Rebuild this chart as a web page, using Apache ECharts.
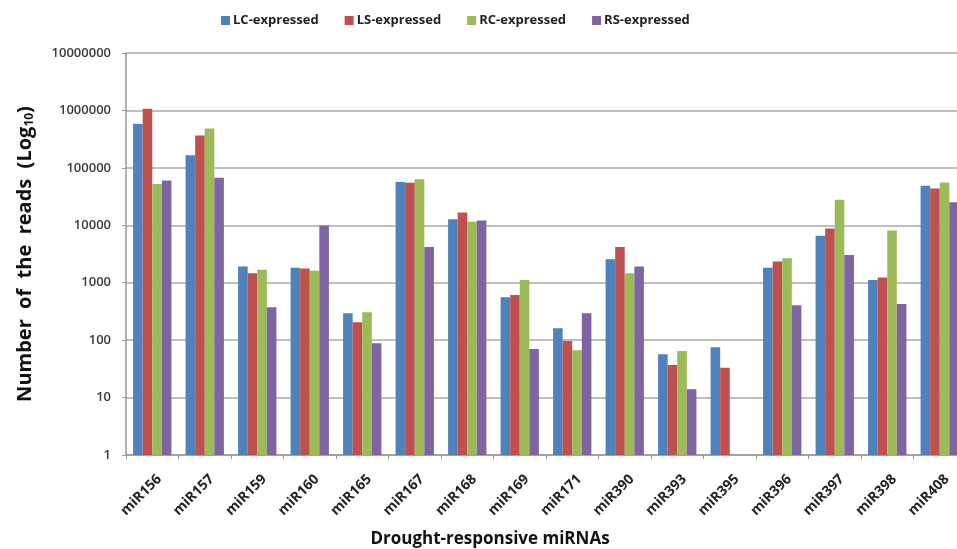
<!DOCTYPE html>
<html>
<head>
<meta charset="utf-8">
<script src="https://cdn.jsdelivr.net/npm/echarts@6/dist/echarts.min.js"></script>
<style>
  html, body { margin: 0; padding: 0; background: #fff; }
  #chart { width: 957px; height: 549px; }
</style>
</head>
<body>
<div id="chart"></div>
<script>
var categories = ['miR156', 'miR157', 'miR159', 'miR160', 'miR165', 'miR167', 'miR168', 'miR169',
    'miR171', 'miR390', 'miR393', 'miR395', 'miR396', 'miR397', 'miR398', 'miR408'];

var lcExpressed = [585000, 166000, 1910, 1830, 294, 57000, 12800, 560, 161, 2570, 57, 75, 1830, 6600, 1120, 48600];
var lsExpressed = [1070000, 366000, 1460, 1760, 205, 54800, 16700, 613, 97, 4200, 37, 33, 2330, 8800, 1230, 43600];
var rcExpressed = [52600, 484000, 1690, 1610, 306, 63500, 11500, 1120, 67, 1460, 65, null, 2670, 27700, 8100, 55500];
var rsExpressed = [60000, 67000, 374, 9900, 88, 4200, 12100, 70, 294, 1910, 14, null, 405, 3050, 427, 25300];

var yTicks = [1, 10, 100, 1000, 10000, 100000, 1000000, 10000000];

var seriesNames = ['LC-expressed', 'LS-expressed', 'RC-expressed', 'RS-expressed'];
var seriesColors = ['#4F81BD', '#C0504D', '#9BBB59', '#8064A2'];
var seriesData = [lcExpressed, lsExpressed, rcExpressed, rsExpressed];

var chart = echarts.init(document.getElementById('chart'));

var option = {
    animation: false,
    textStyle: { fontFamily: '"Open Sans", "Liberation Sans", sans-serif' },
    legend: {
        left: 216,
        top: 9,
        itemWidth: 9,
        itemHeight: 9,
        itemGap: 26,
        icon: 'rect',
        textStyle: { fontSize: 13, fontWeight: 'bold', color: '#222', padding: [0, 0, 0, -2] },
        data: seriesNames
    },
    grid: {
        left: 126,
        top: 53,
        width: 840,   // last group runs past the right edge, as in the source figure
        height: 402,
        containLabel: false,
        outerBoundsMode: 'none'
    },
    xAxis: {
        type: 'category',
        data: categories,
        name: 'Drought-responsive miRNAs',
        nameLocation: 'middle',
        nameGap: 76,
        nameTextStyle: { fontSize: 17, fontWeight: 'bold', color: '#111', padding: [0, 112, 0, 0] },
        axisLine: { lineStyle: { color: '#999', width: 1.5 } },
        axisTick: { show: true, length: 4, lineStyle: { color: '#999' } },
        axisLabel: {
            interval: 0,
            rotate: 45,
            margin: 29,
            fontSize: 14,
            fontWeight: 'bold',
            color: '#222',
            padding: [0, -10, 0, 0]
        }
    },
    yAxis: {
        type: 'log',
        logBase: 10,
        min: yTicks[0],
        max: yTicks[yTicks.length - 1],
        name: '{a|Number  of  the  reads  (Log}{b|10}{a|)}',
        nameLocation: 'middle',
        nameGap: 90,
        nameTextStyle: {
            rich: {
                a: { fontSize: 20, fontWeight: 'bold', color: '#111' },
                b: { fontSize: 12, fontWeight: 'bold', color: '#111', verticalAlign: 'bottom', padding: [9, 0, 0, 0] }
            }
        },
        axisLine: { show: true, lineStyle: { color: '#999', width: 1.5 } },
        axisTick: { show: true, length: 4, lineStyle: { color: '#999' } },
        splitLine: { lineStyle: { color: '#aaa', width: 1.5 } },
        axisLabel: {
            margin: 15,
            fontSize: 13,
            fontWeight: 600,
            color: '#3a3a3a',
            formatter: function (v) { return String(Math.round(v)); }
        }
    },
    series: seriesNames.map(function (name, i) {
        return {
            name: name,
            type: 'bar',
            barGap: '0%',
            barCategoryGap: '27%',
            itemStyle: { color: seriesColors[i] },
            data: seriesData[i]
        };
    })
};

chart.setOption(option);
</script>
</body>
</html>
